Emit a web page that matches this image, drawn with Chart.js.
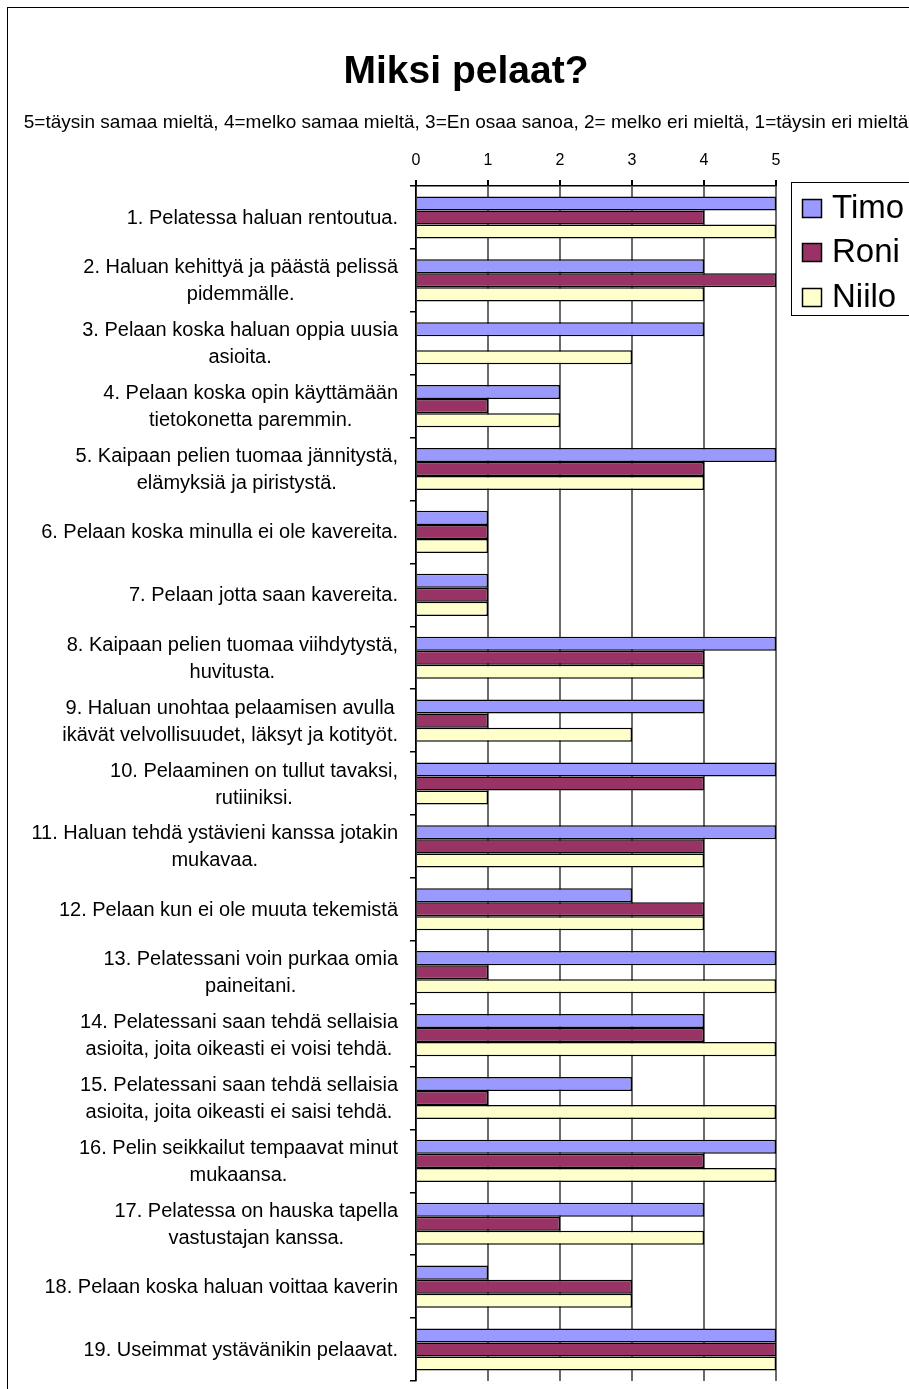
<!DOCTYPE html>
<html>
<head>
<meta charset="utf-8">
<title>Miksi pelaat?</title>
<script src="https://cdn.jsdelivr.net/npm/chart.js@4/dist/chart.umd.min.js"></script>
<style>
  html, body { margin: 0; padding: 0; background: #fff; overflow: hidden; width: 909px; height: 1389px; }
  #frame { position: absolute; left: 7px; top: 7px; width: 916px; height: 1400px; border: 1px solid #000; background: #fff; }
  #c { display: block; }
</style>
</head>
<body>
<div id="frame"><canvas id="c" width="916" height="1400"></canvas></div>
<script>
const categories = [
  ["1. Pelatessa haluan rentoutua."],
  ["2. Haluan kehittyä ja päästä pelissä", "pidemmälle."],
  ["3. Pelaan koska haluan oppia uusia", "asioita."],
  ["4. Pelaan koska opin käyttämään", "tietokonetta paremmin."],
  ["5. Kaipaan pelien tuomaa jännitystä,", "elämyksiä ja piristystä."],
  ["6. Pelaan koska minulla ei ole kavereita."],
  ["7. Pelaan jotta saan kavereita."],
  ["8. Kaipaan pelien tuomaa viihdytystä,", "huvitusta."],
  ["9. Haluan unohtaa pelaamisen avulla", "ikävät velvollisuudet, läksyt ja kotityöt."],
  ["10. Pelaaminen on tullut tavaksi,", "rutiiniksi."],
  ["11. Haluan tehdä ystävieni kanssa jotakin", "mukavaa."],
  ["12. Pelaan kun ei ole muuta tekemistä"],
  ["13. Pelatessani voin purkaa omia", "paineitani."],
  ["14. Pelatessani saan tehdä sellaisia", "asioita, joita oikeasti ei voisi tehdä."],
  ["15. Pelatessani saan tehdä sellaisia", "asioita, joita oikeasti ei saisi tehdä."],
  ["16. Pelin seikkailut tempaavat minut", "mukaansa."],
  ["17. Pelatessa on hauska tapella", "vastustajan kanssa."],
  ["18. Pelaan koska haluan voittaa kaverin"],
  ["19. Useimmat ystävänikin pelaavat."]
];
const timo  = [5, 4, 4, 2, 5, 1, 1, 5, 4, 5, 5, 3, 5, 4, 3, 5, 4, 1, 5];
const roni  = [4, 5, 0, 1, 4, 1, 1, 4, 1, 4, 4, 4, 1, 4, 1, 4, 2, 3, 5];
const niilo = [5, 4, 3, 2, 4, 1, 1, 4, 3, 1, 4, 4, 5, 5, 5, 5, 4, 3, 5];
const scaleTicks = [0, 1, 2, 3, 4, 5];

const FONT = "'Liberation Sans', Arial, sans-serif";

// Chart area edges inside the canvas
const CANVAS_W = 916, CANVAS_H = 1400;
const AREA_LEFT = 408, AREA_RIGHT = 768, AREA_BOTTOM = 1373;

// Multi-line category labels: block right-aligned, lines centred inside the block
const categoryLabels = {
  id: 'categoryLabels',
  afterDraw(chart) {
    const ctx = chart.ctx, y = chart.scales.y;
    ctx.save();
    ctx.font = "20px " + FONT;
    ctx.fillStyle = '#000';
    ctx.textAlign = 'center';
    ctx.textBaseline = 'middle';
    const lineH = 27, rightEdge = 390;
    categories.forEach((lines, i) => {
      const cy = y.getPixelForValue(i);
      const w = Math.max(...lines.map(l => ctx.measureText(l).width));
      const cx = rightEdge - w / 2;
      lines.forEach((l, k) => {
        ctx.fillText(l, cx, cy + (k - (lines.length - 1) / 2) * lineH + 1);
      });
    });
    ctx.restore();
  }
};

// Boxed legend to the right of the plot
const boxedLegend = {
  id: 'boxedLegend',
  afterDraw(chart) {
    const ctx = chart.ctx;
    ctx.save();
    ctx.fillStyle = '#fff';
    ctx.fillRect(783.5, 174.5, 200, 133);
    ctx.strokeStyle = '#000';
    ctx.lineWidth = 1;
    ctx.strokeRect(783.5, 174.5, 200, 133);
    ctx.font = "33px " + FONT;
    ctx.textBaseline = 'middle';
    ctx.textAlign = 'left';
    chart.data.datasets.forEach((ds, i) => {
      const cy = 200 + i * 44.4;
      ctx.fillStyle = ds.backgroundColor;
      ctx.fillRect(794.5, Math.round(cy - 9) + 0.5, 19, 18);
      ctx.strokeStyle = '#000';
      ctx.lineWidth = 1.5;
      ctx.strokeRect(794.5, Math.round(cy - 9) + 0.5, 19, 18);
      ctx.fillStyle = '#000';
      ctx.fillText(ds.label, 824, cy + 1);
    });
    ctx.restore();
  }
};

new Chart(document.getElementById('c'), {
  type: 'bar',
  data: {
    labels: categories,
    datasets: [
      { label: 'Timo',  data: timo,  backgroundColor: '#9999FF', borderColor: '#000', borderWidth: 1.5 },
      { label: 'Roni',  data: roni,  backgroundColor: '#993366', borderColor: '#000', borderWidth: 1.5 },
      { label: 'Niilo', data: niilo, backgroundColor: '#FFFFCC', borderColor: '#000', borderWidth: 1.5 }
    ]
  },
  options: {
    indexAxis: 'y',
    responsive: false,
    animation: false,
    events: [],
    datasets: { bar: { categoryPercentage: 0.67, barPercentage: 1.0 } },
    layout: { padding: { left: 0, right: 0, top: 0, bottom: CANVAS_H - AREA_BOTTOM } },
    plugins: {
      legend: { display: false },
      tooltip: { enabled: false },
      title: {
        display: true,
        text: 'Miksi pelaat?',
        color: '#000',
        font: { family: FONT, size: 39, weight: 'bold', lineHeight: 1 },
        padding: { top: 45, bottom: 0 }
      },
      subtitle: {
        display: true,
        text: '5=täysin samaa mieltä, 4=melko samaa mieltä, 3=En osaa sanoa, 2= melko eri mieltä, 1=täysin eri mieltä',
        color: '#000',
        font: { family: FONT, size: 19, lineHeight: 1 },
        padding: { top: 21, bottom: 0 }
      }
    },
    scales: {
      x: {
        position: 'top',
        min: 0,
        max: 5,
        afterBuildTicks(scale) { scale.ticks = scaleTicks.map(v => ({ value: v })); },
        afterFit(scale) { scale.height = 54; },
        ticks: { color: '#000', font: { family: FONT, size: 16 }, padding: 10 },
        grid: { color: '#6a6a6a', tickColor: '#000', tickLength: 6, lineWidth: 2 },
        border: { display: true, color: '#000', width: 1.5 }
      },
      y: {
        afterFit(scale) { scale.width = AREA_LEFT; },
        ticks: { autoSkip: false, callback: () => '' },
        grid: { offset: true, drawOnChartArea: false, tickColor: '#000', tickLength: 6, lineWidth: 1.5 },
        border: { display: true, color: '#000', width: 1.5 }
      },
      // empty right-hand strip that holds the legend box
      legendStrip: {
        type: 'linear',
        position: 'right',
        afterFit(scale) { scale.width = CANVAS_W - AREA_RIGHT; },
        ticks: { display: false },
        grid: { display: false },
        border: { display: false }
      }
    }
  },
  plugins: [categoryLabels, boxedLegend]
});
</script>
</body>
</html>
